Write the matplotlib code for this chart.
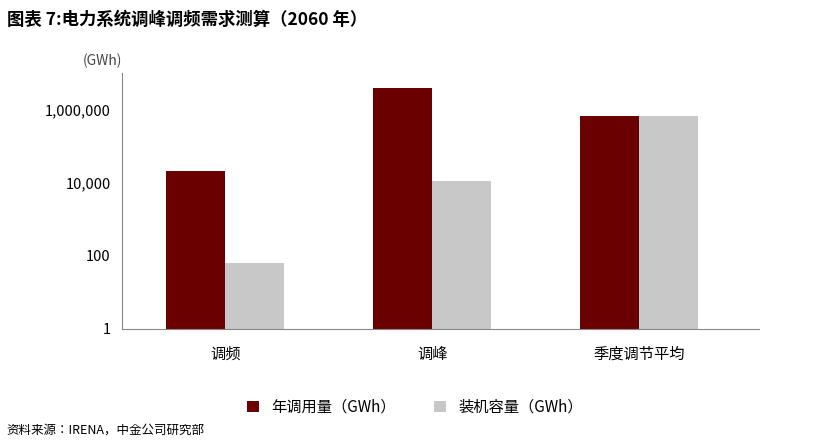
import numpy as np
import matplotlib.pyplot as plt
from matplotlib import font_manager

# pick whichever CJK family is actually registered
names = {f.name for f in font_manager.fontManager.ttflist}
cjk = [n for n in ['Noto Sans CJK SC', 'Noto Sans CJK JP', 'Noto Sans CJK TC',
                   'Noto Sans CJK KR', 'Noto Sans SC'] if n in names]
plt.rcParams['font.family'] = 'sans-serif'
plt.rcParams['font.sans-serif'] = cjk + ['DejaVu Sans']
plt.rcParams['font.size'] = 10

categories = ['调频', '调峰', '季度调节平均']
annual_use = [21000, 4000000, 700000]      # 年调用量 (GWh)
capacity = [65, 11500, 700000]             # 装机容量 (GWh)
tick_vals = [1, 100, 10000, 1000000]
tick_labels = ['1', '100', '10,000', '1,000,000']

darkRed = '#6B0000'
lightGrey = '#C8C8C8'

fig = plt.figure(figsize=(8.28, 4.48), dpi=100)
ax = fig.add_axes([0.147, 0.266, 0.77, 0.57])

x = np.arange(len(categories))
w = 0.285
ax.bar(x - w / 2, annual_use, w, color=darkRed, label='年调用量（GWh）')
ax.bar(x + w / 2, capacity, w, color=lightGrey, label='装机容量（GWh）')

ax.set_yscale('log')
ax.set_ylim(1, 1e7)
ax.set_xlim(-0.5, 2.58)
ax.set_yticks(tick_vals)
ax.set_yticklabels(tick_labels)
ax.minorticks_off()
ax.set_xticks(x)
ax.set_xticklabels(categories, fontsize=11)
ax.tick_params(axis='x', length=0, pad=12)
ax.tick_params(axis='y', length=0, pad=8, labelsize=10.5)
for s in ['top', 'right']:
    ax.spines[s].set_visible(False)
for s in ['left', 'bottom']:
    ax.spines[s].set_color('#888888')
    ax.spines[s].set_linewidth(0.8)

ax.text(0.0, 1.02, '(GWh)', transform=ax.transAxes, ha='right', va='bottom',
        fontsize=10, color='#444444')

ax.legend(loc='upper center', bbox_to_anchor=(0.46, -0.22), ncol=2, frameon=False,
          fontsize=11, handlelength=0.8, handleheight=0.8, columnspacing=2.5)

fig.text(0.008, 0.955, '图表 7:电力系统调峰调频需求测算（2060 年）', fontsize=12.5,
         fontweight='bold', ha='left', va='center')
fig.text(0.008, 0.04, '资料来源：IRENA，中金公司研究部', fontsize=9, ha='left', va='center')

fig.savefig('out.png', dpi=100)
